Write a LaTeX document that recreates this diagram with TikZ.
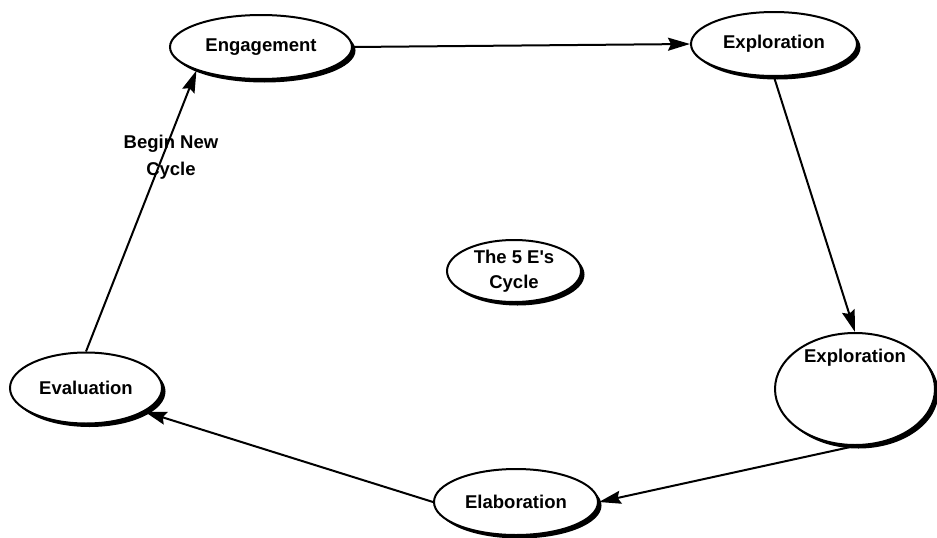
\documentclass[tikz,border=0pt]{standalone}
\usepackage{fontspec}
\setmainfont{Liberation Sans}
\usetikzlibrary{shapes.geometric,shadows,arrows.meta}

\tikzset{
  stage/.style={ellipse, draw=black, line width=2pt, fill=white, inner sep=0pt,
    font=\fontsize{18.5}{25}\selectfont\bfseries, align=center,
    drop shadow={shadow xshift=3.5pt, shadow yshift=-3.5pt, fill=black, opacity=1}},
  caption/.style={font=\fontsize{18.5}{27}\selectfont\bfseries, align=center, inner sep=0pt},
  flow/.style={line width=2pt, -{Stealth[length=22pt, width=13pt, inset=3pt]}}
}

\begin{document}
\begin{tikzpicture}[x=1pt, y=-1pt]
  \useasboundingbox (0,0) rectangle (937,538);

  % the five stages and the centre title
  \node[stage, minimum width=182pt, minimum height=64pt] (eng)  at (261,47)  {Engagement};
  \node[stage, minimum width=166pt, minimum height=64pt] (exp1) at (774,44)  {Exploration};
  \node[stage, minimum width=160pt, minimum height=112pt] (exp2) at (855,389) {};
  \node[caption] (exp2txt) at ([yshift=-26pt]exp2.north) {Exploration};
  \node[stage, minimum width=164pt, minimum height=66pt] (elab) at (516,502) {Elaboration};
  \node[stage, minimum width=152pt, minimum height=71pt] (eval) at (86,388)  {Evaluation};
  \node[stage, minimum width=134pt, minimum height=62pt] (core) at (514,271) {The 5 E\textquotesingle s\\Cycle};

  % cycle connectors
  \draw[flow] (eng.east)   -- (exp1.west);
  \draw[flow] (exp1.south) -- (exp2.north);
  \draw[flow] (exp2.south) -- (elab.east);
  \draw[flow] (elab.west)  -- (eval.-22);
  \draw[flow] (eval.north) -- (eng.200);

  \node[caption] (restart) at (171,157) {Begin New\\Cycle};
\end{tikzpicture}
\end{document}
